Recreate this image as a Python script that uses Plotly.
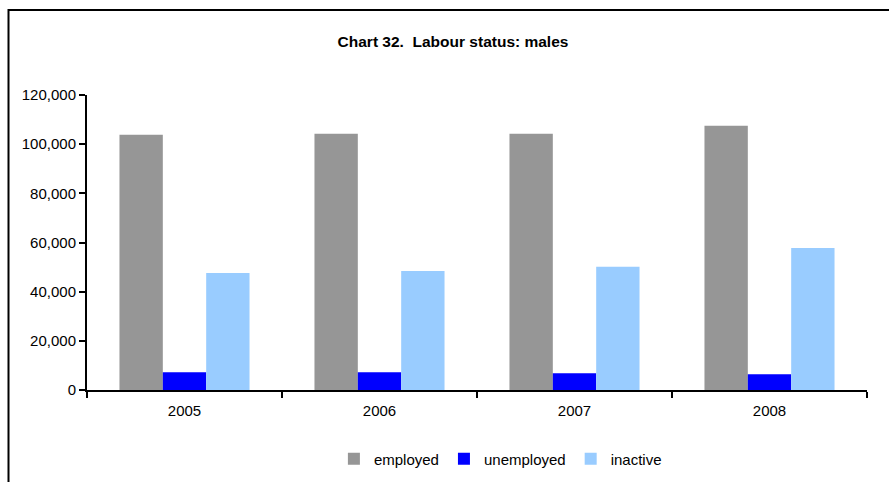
import plotly.graph_objects as go

years = ["2005", "2006", "2007", "2008"]
employed = [103800, 104200, 104200, 107500]
unemployed = [7200, 7200, 6800, 6400]
inactive = [47600, 48400, 50100, 57800]
y_ticks = [0, 20000, 40000, 60000, 80000, 100000, 120000]

FONT = "Liberation Sans, Arial, Helvetica, sans-serif"

fig = go.Figure()
fig.add_trace(go.Bar(name="employed", x=years, y=employed, marker_color="#969696",
                     marker_line_width=0))
fig.add_trace(go.Bar(name="unemployed", x=years, y=unemployed, marker_color="#0000FF",
                     marker_line_width=0))
fig.add_trace(go.Bar(name="inactive", x=years, y=inactive, marker_color="#99CCFF",
                     marker_line_width=0))

fig.update_layout(
    width=889, height=482,
    margin=dict(l=87, r=22, t=95, b=92, autoexpand=False),
    paper_bgcolor="white", plot_bgcolor="white",
    barmode="group", bargap=0.333, bargroupgap=0,
    font=dict(family=FONT, size=15, color="black"),
    title=dict(text="<b>Chart 32.  Labour status: males</b>", x=453 / 889, xref="container",
               y=1 - 42 / 482, yref="container", xanchor="center", yanchor="middle",
               font=dict(size=15.5, family=FONT, color="black")),
    legend=dict(orientation="h", x=0.53, xanchor="center", y=1 - 459 / 482,
                yref="container", yanchor="middle",
                font=dict(size=15), itemwidth=30, tracegroupgap=0, bgcolor="rgba(0,0,0,0)"),
    showlegend=True,
)
fig.update_xaxes(showline=True, linecolor="black", linewidth=2, ticks="outside",
                 tickson="boundaries", ticklen=6, tickwidth=1.5, tickcolor="black",
                 showgrid=False, tickfont=dict(size=15), ticklabelstandoff=6)
fig.update_yaxes(range=[0, 120000], tickvals=y_ticks, tickformat=",d", showline=True,
                 linecolor="black", linewidth=2, ticks="outside", ticklen=6, tickwidth=1.5,
                 tickcolor="black", showgrid=False, zeroline=False, tickfont=dict(size=15))

# outer frame (extends beyond the visible area on right and bottom)
fig.add_shape(type="rect", xref="paper", yref="paper",
              x0=(8.5 - 87) / 780, x1=(900 - 87) / 780,
              y0=(390 - 500) / 295, y1=(390 - 10) / 295,
              line=dict(color="black", width=2), fillcolor="rgba(0,0,0,0)", layer="below")

fig.write_html("out.html", config={"displayModeBar": False},
               post_script="document.body.style.margin='0';")
